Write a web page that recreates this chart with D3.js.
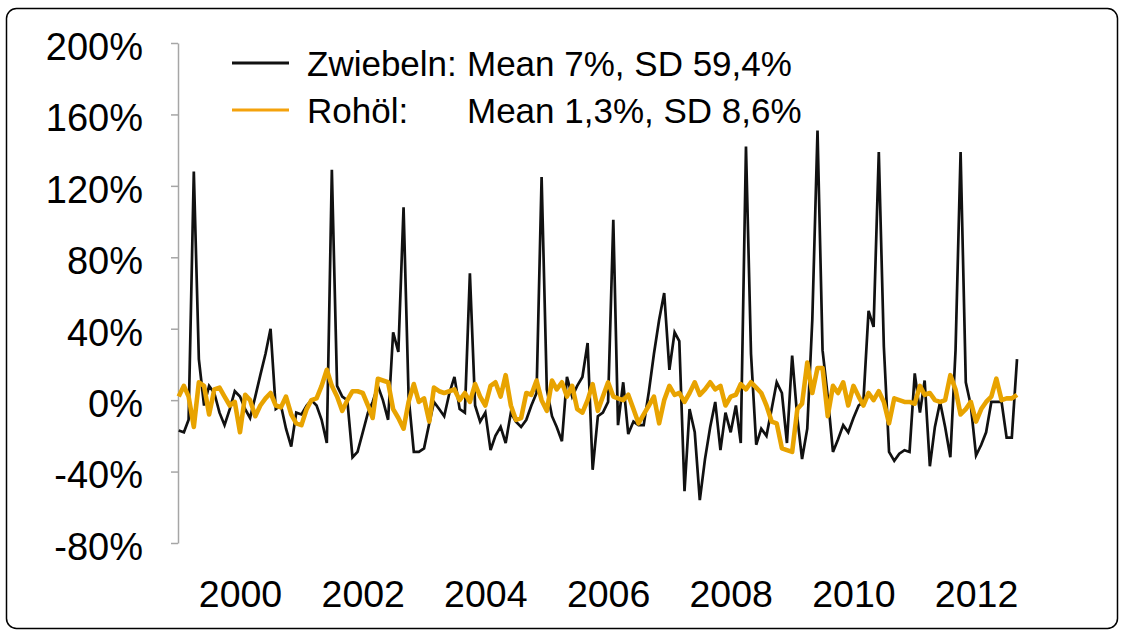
<!DOCTYPE html>
<html lang="de">
<head>
<meta charset="UTF-8">
<title>Zwiebeln vs Rohöl</title>
<style>
  body { margin: 0; background: #fff; }
  svg { display: block; font-family: "Liberation Sans", Arial, sans-serif; }
</style>
</head>
<body>
<div id="chart"></div>
<script src="https://cdnjs.cloudflare.com/ajax/libs/d3/7.8.2/d3.min.js"></script>
<script>
// monthly changes in %, Jan 1999 .. Sep 2012
var startYear = 1999;

var zwiebeln = [
  -17, -18, -11, 128, 23, -3, 8, 4, -7, -14,
  -5, 5, 2, -5, -10, 2, 14, 26, 40, -5,
  -3, -16, -26, -7, -8, -3, 0, -3, -11, -24,
  129, 8, 2, 0, -32, -29, -18, -7, -1, 8,
  0, -11, 38, 27, 108, 2, -29, -29, -27, -13,
  -1, -5, -9, 4, 13, -5, -7, 71, -3, -12,
  -7, -28, -20, -15, -24, -7, -12, -15, -11, -3,
  4, 125, 6, -9, -15, -23, 13, 2, 8, 13,
  32, -39, -9, -7, -1, 101, -14, 10, -19, -12,
  -14, -14, 5, 26, 45, 60, 17, 38, 33, -51,
  -5, -18, -56, -33, -15, -1, -28, -7, -18, -3,
  -24, 142, 26, -25, -16, -20, -5, 10, 4, -24,
  25, -10, -33, -16, 45, 151, 28, 2, -29, -22,
  -14, -18, -10, -3, -1, 50, 41, 139, 30, -29,
  -34, -30, -28, -29, 15, -7, 11, -37, -15, -1,
  -15, -32, 28, 139, 10, -3, -31, -25, -18, -1,
  -1, -1, -21, -21, 23
];

var rohoel = [
  2, 8, 2, -15, 10, 8, -8, 6, 7, 2,
  -3, -1, -18, 3, 0, -9, -3, 1, 4, -3,
  -4, 2, -8, -13, -14, -5, 0, 1, 8, 17,
  8, 2, -6, 0, 5, 5, 4, -3, -10, 12,
  11, 10, -5, -10, -16, -1, 9, -1, 1, -12,
  7, 5, 4, 5, 6, 0, 4, -1, 9, 2,
  -3, 8, 10, 2, 14, -3, -11, -10, 4, 3,
  11, 0, -6, 11, 6, 10, 2, 8, -5, -7,
  0, 9, -6, 2, 10, 2, 1, 0, 3, -5,
  -13, -8, -3, 2, -13, 0, 8, 3, 4, -1,
  4, 10, 3, 6, 10, 6, 8, -3, 2, 3,
  9, 6, 10, 7, 4, -3, -12, -13, -27, -28,
  -29, -5, -2, 21, 4, 18, 18, -9, 8, 4,
  10, -3, 8, 2, -3, 4, 0, 5, -1, -13,
  1, 0, -1, -1, -2, 8, 3, 4, 0, -1,
  0, 14, 6, -8, -5, -1, -12, -5, -1, 2,
  12, 0, 1, 1, 3
];

var yTicks = [-80, -40, 0, 40, 80, 120, 160, 200];
var xTickYears = [2000, 2002, 2004, 2006, 2008, 2010, 2012];

var legendNames = ["Zwiebeln:", "Rohöl:"];
var legendStats = ["Mean 7%, SD 59,4%", "Mean 1,3%, SD 8,6%"];
var lineColors = ["#111111", "#e8a300"];
var legendColors = ["#111111", "#f4a20c"];

var width = 1124, height = 632;

var svg = d3.select("#chart")
  .append("svg")
  .attr("width", width)
  .attr("height", height);

// rounded frame
svg.append("rect")
  .attr("x", 6.5)
  .attr("y", 8.5)
  .attr("width", 1111)
  .attr("height", 620)
  .attr("rx", 10)
  .attr("fill", "none")
  .attr("stroke", "#000")
  .attr("stroke-width", 1.5);

var x = d3.scaleTime()
  .domain([new Date(startYear, 0, 1), new Date(2013, 0, 1)])
  .range([178.7, 1037.5]);

var y = d3.scaleLinear()
  .domain([-80, 200])
  .range([543, 43]);

function monthDate(i) {
  return new Date(startYear, i, 1);
}

// y axis
var yAxis = svg.append("g")
  .attr("transform", "translate(178,0)")
  .call(d3.axisLeft(y)
    .tickValues(yTicks)
    .tickSizeOuter(0)
    .tickSizeInner(7)
    .tickPadding(28)
    .tickFormat(function(d) { return d + "%"; }));

yAxis.select(".domain").attr("stroke", "#a6a6a6").attr("stroke-width", 1.5);
yAxis.selectAll(".tick line").attr("stroke", "#a6a6a6").attr("stroke-width", 1.5);
yAxis.selectAll(".tick text")
  .attr("font-size", 38)
  .attr("font-family", "'Liberation Sans', Arial, sans-serif")
  .attr("fill", "#000")
  .attr("dy", "0.43em");

// x axis (labels only)
var xAxis = svg.append("g")
  .attr("transform", "translate(0,543)")
  .call(d3.axisBottom(x)
    .tickValues(xTickYears.map(function(yr) { return new Date(yr, 0, 1); }))
    .tickSize(0)
    .tickPadding(37.5)
    .tickFormat(d3.timeFormat("%Y")));

xAxis.select(".domain").remove();
xAxis.selectAll(".tick text")
  .attr("font-size", 37.5)
  .attr("font-family", "'Liberation Sans', Arial, sans-serif")
  .attr("fill", "#000");

// lines
var line = d3.line()
  .x(function(d, i) { return x(monthDate(i)); })
  .y(function(d) { return y(d); });

svg.append("path")
  .datum(zwiebeln)
  .attr("d", line)
  .attr("fill", "none")
  .attr("stroke", lineColors[0])
  .attr("stroke-width", 2.7);

svg.append("path")
  .datum(rohoel)
  .attr("d", line)
  .attr("fill", "none")
  .attr("stroke", lineColors[1])
  .attr("stroke-width", 4.6)
  .attr("stroke-linejoin", "round");

// legend
var legendY = [63, 110];
var legend = svg.selectAll(".legend")
  .data(legendNames)
  .enter()
  .append("g")
  .attr("class", "legend")
  .attr("transform", function(d, i) { return "translate(0," + legendY[i] + ")"; });

legend.append("line")
  .attr("x1", 232)
  .attr("x2", 289)
  .attr("stroke", function(d, i) { return legendColors[i]; })
  .attr("stroke-width", 3);

legend.append("text")
  .attr("x", 307)
  .attr("y", 12.5)
  .attr("font-size", 35)
  .text(function(d) { return d; });

legend.append("text")
  .attr("x", 467)
  .attr("y", 12.5)
  .attr("font-size", 35)
  .text(function(d, i) { return legendStats[i]; });
</script>
</body>
</html>
